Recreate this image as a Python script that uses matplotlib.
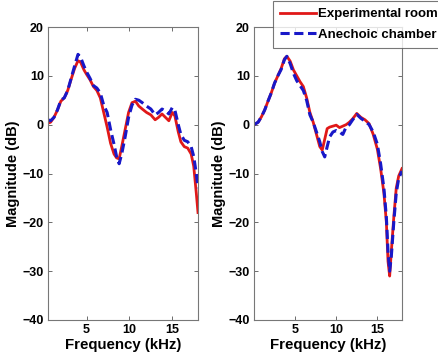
import matplotlib
matplotlib.use("Agg")
import matplotlib.pyplot as plt

plt.rcParams['font.family'] = ['Liberation Sans', 'DejaVu Sans']
plt.rcParams['font.weight'] = 'bold'

# Left panel data
freq_left = [0.5, 0.8, 1.2, 1.6, 2.0, 2.4, 2.8, 3.2, 3.6, 4.0, 4.3, 4.7, 5.0, 5.4, 5.8, 6.2,
             6.6, 7.0, 7.4, 7.8, 8.2, 8.5, 8.8, 9.1, 9.5, 9.9, 10.3, 10.7, 11.1, 11.5, 12.0,
             12.5, 13.0, 13.4, 13.8, 14.2, 14.6, 15.0, 15.3, 15.7, 16.0, 16.4, 16.8, 17.2,
             17.5, 17.8, 18.0]
exp_left = [0.3, 0.5, 1.5, 3.0, 4.8, 5.5, 7.0, 9.3, 11.5, 13.1, 12.8, 11.2, 10.3, 9.2, 7.8, 7.0,
            5.5, 2.5, -0.5, -3.8, -6.0, -6.8, -7.0, -4.5, -1.0, 2.5, 4.5, 4.8, 3.8, 3.2, 2.5,
            2.0, 1.0, 1.5, 2.2, 1.5, 0.8, 2.5, 1.8, -1.5, -3.5, -4.5, -4.8, -6.0,
            -8.5, -14.0, -18.0]
ane_left = [1.0, 0.8, 1.5, 3.0, 5.0, 5.5, 7.0, 9.5, 12.0, 14.4, 13.8, 12.0, 10.8, 9.5, 8.0, 7.5,
            6.5, 4.0, 2.5, -1.0, -4.0, -6.5, -8.0, -6.0, -2.5, 1.5, 4.0, 5.2, 5.0, 4.5, 3.8,
            3.2, 2.0, 2.5, 3.2, 2.8, 2.2, 3.5, 3.0, 0.0, -2.0, -3.2, -3.5, -4.5,
            -6.5, -10.0, -13.0]

# Right panel data
freq_right = [0, 0.5, 0.9, 1.3, 1.7, 2.1, 2.5, 2.9, 3.3, 3.7, 4.0, 4.4, 4.8, 5.2, 5.6, 6.0, 6.4,
              6.8, 7.2, 7.6, 8.0, 8.3, 8.6, 8.9, 9.2, 9.6, 10.0, 10.4, 10.8, 11.2, 11.6, 12.0,
              12.5, 13.0, 13.5, 14.0, 14.5, 15.0, 15.4, 15.8, 16.1, 16.3, 16.5, 16.7, 17.0,
              17.3, 17.6, 18.0]
exp_right = [0, 0.5, 1.6, 3.0, 4.8, 6.5, 8.5, 10.0, 11.5, 13.5, 14.0, 13.0, 11.2, 10.0, 8.8, 7.8,
             5.5, 2.5, 0.5, -2.0, -4.5, -5.2, -3.0, -0.8, -0.5, -0.3, -0.1, -0.6, -0.3, 0.0, 0.5,
             1.2, 2.3, 1.5, 1.0, 0.2, -2.0, -5.0, -9.0, -14.0, -20.0, -28.0, -31.0, -26.0,
             -19.0, -13.0, -10.5, -9.0]
ane_right = [0, 0.5, 1.6, 3.0, 4.8, 6.5, 8.5, 10.0, 11.3, 13.3, 14.0, 12.5, 10.5, 9.0, 8.0, 7.0,
             5.0, 2.0, 0.5, -1.5, -3.5, -5.5, -6.6, -4.5, -2.5, -1.5, -1.2, -1.5, -2.0, -0.5, 0.0,
             1.0, 2.1, 1.3, 0.7, 0.0, -1.5, -4.0, -8.0, -13.0, -19.0, -26.0, -30.0, -27.0,
             -20.0, -14.0, -11.0, -9.5]

labels = ['Experimental room', 'Anechoic chamber']
red = '#e01818'
blue = '#1818c8'

fig = plt.figure(figsize=(4.39, 3.6), dpi=100)
ax1 = fig.add_axes([48/439, 1-320/360, 150/439, 293/360])
ax2 = fig.add_axes([254/439, 1-320/360, 148/439, 293/360])

for ax, f, e, a, xl in [(ax1, freq_left, exp_left, ane_left, (0.5, 18)),
                        (ax2, freq_right, exp_right, ane_right, (0, 18))]:
    l1, = ax.plot(f, e, color=red, lw=2.0, label=labels[0])
    l2, = ax.plot(f, a, color=blue, lw=2.2, ls=(0, (3, 1.5)), label=labels[1])
    ax.set_xlim(*xl)
    ax.set_ylim(-40, 20)
    ax.set_xticks([5, 10, 15])
    ax.set_yticks([-40, -30, -20, -10, 0, 10, 20])
    ax.tick_params(direction='in', top=True, right=True, length=3, width=0.6,
                   labelsize=9, color='#555555', pad=3)
    for s in ax.spines.values():
        s.set_color('#777777')
        s.set_linewidth(0.8)
    ax.set_xlabel('Frequency (kHz)', fontsize=10.8, fontweight='bold', labelpad=1)
    ax.set_ylabel('Magnitude (dB)', fontsize=10.5, fontweight='bold', labelpad=2)
    for t in ax.get_xticklabels() + ax.get_yticklabels():
        t.set_fontweight('bold')

leg = fig.legend(handles=[l1, l2], loc='upper left', bbox_to_anchor=(273/439, 1-1/360),
                 borderaxespad=0, frameon=True, fancybox=False,
                 handlelength=2.7, handletextpad=0.15, borderpad=0.55, labelspacing=0.6,
                 prop={'weight': 'bold', 'size': 9.5})
leg.get_frame().set_edgecolor('#555555')
leg.get_frame().set_linewidth(0.8)

fig.savefig('out.png', dpi=100)
